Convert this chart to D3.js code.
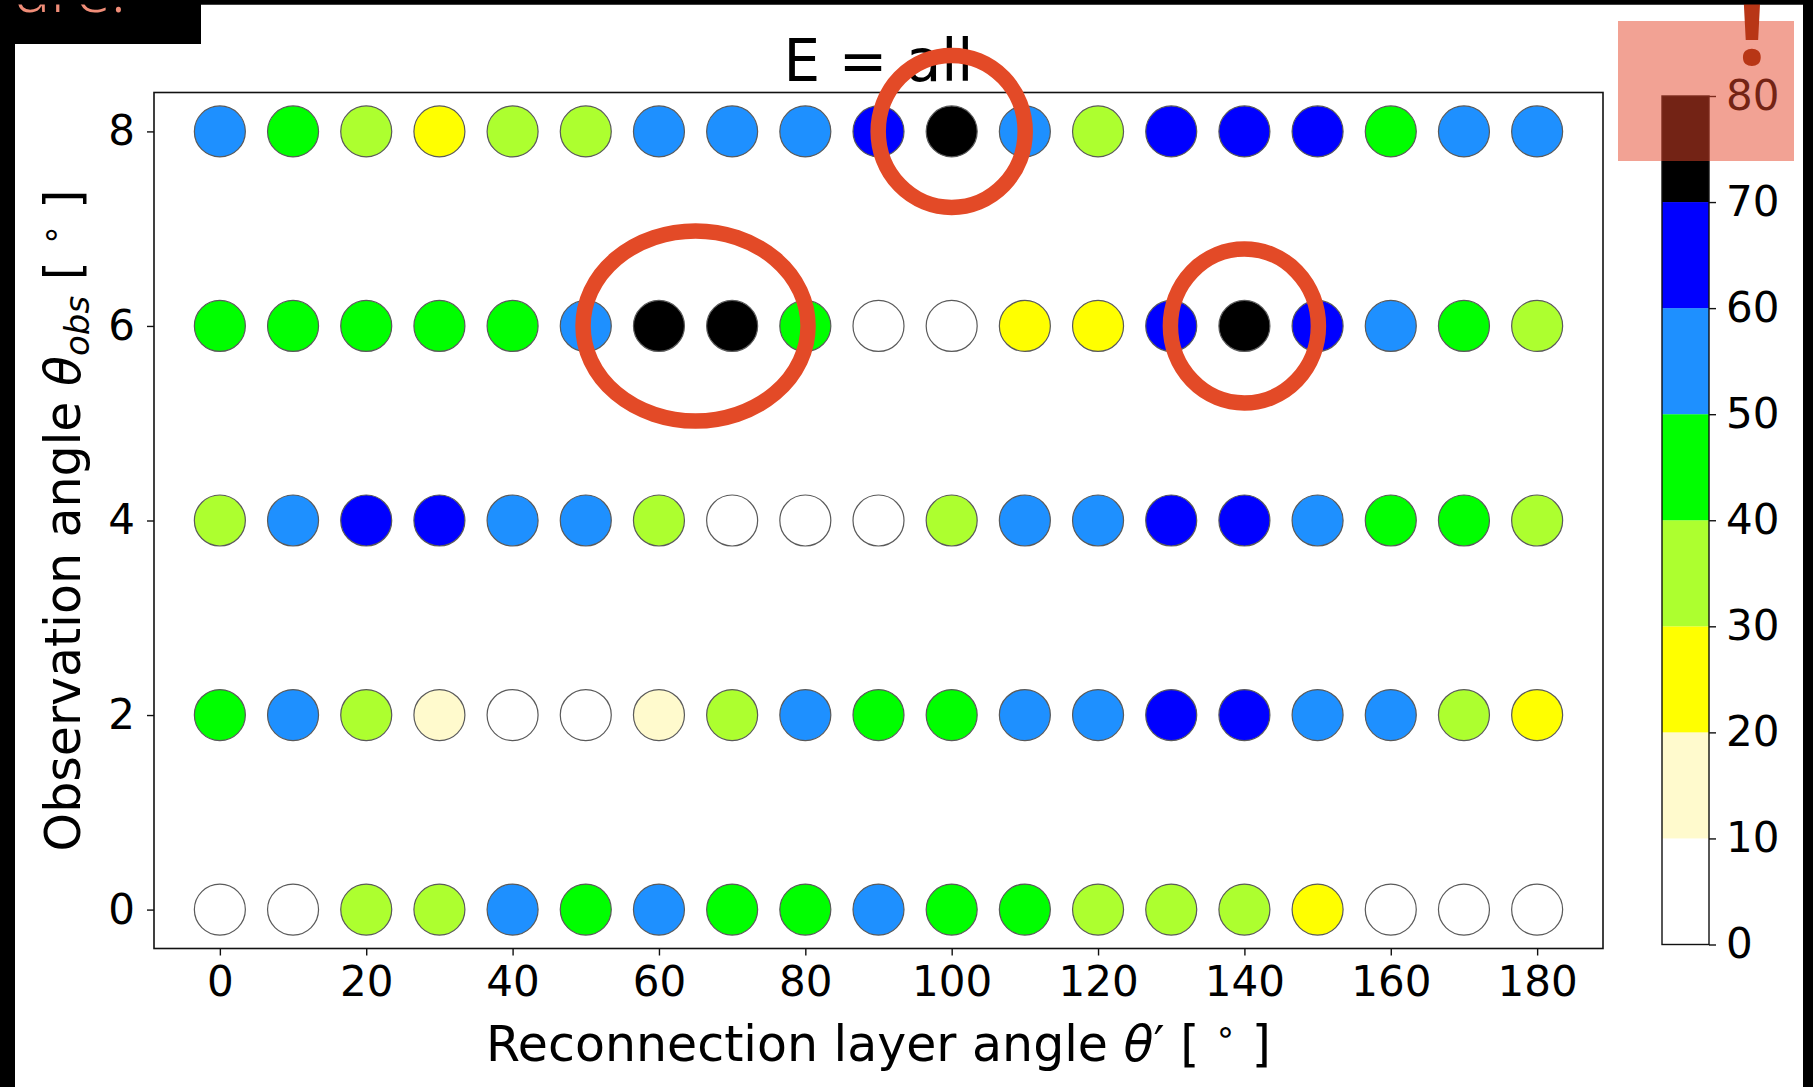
<!DOCTYPE html>
<html>
<head>
<meta charset="utf-8">
<script src="https://cdn.jsdelivr.net/npm/d3@7"></script>
<style>
  html, body { margin: 0; padding: 0; background: #000; }
  svg { display: block; }
  text { font-family: "DejaVu Sans", sans-serif; }
</style>
</head>
<body>
<svg id="chart" width="1813" height="1087"></svg>
<script>
// ---------------- data ----------------
const reconnectionAngles = [0,10,20,30,40,50,60,70,80,90,100,110,120,130,140,150,160,170,180];
const observationAngles = [8, 6, 4, 2, 0];
// values per observation angle (estimated, read from the colour bins)
const valuesObs8 = [55,45,35,25,35,35,55,55,55,65,75,55,35,65,65,65,45,55,55];
const valuesObs6 = [45,45,45,45,45,55,75,75,45,5,5,25,25,65,75,65,55,45,35];
const valuesObs4 = [35,55,65,65,55,55,35,5,5,5,35,55,55,65,65,55,45,45,35];
const valuesObs2 = [45,55,35,15,5,5,15,35,55,45,45,55,55,65,65,55,55,35,25];
const valuesObs0 = [5,5,35,35,55,45,55,45,45,55,45,45,35,35,35,25,5,5,5];
const rowValues = [valuesObs8, valuesObs6, valuesObs4, valuesObs2, valuesObs0];

const colorBounds = [0,10,20,30,40,50,60,70,80];
const colorBins = ["#ffffff","#fffacd","#ffff00","#adff2f","#00ff00","#1e90ff","#0000ff","#000000"];
const xTickValues = [0,20,40,60,80,100,120,140,160,180];
const yTickValues = [0,2,4,6,8];
const cbTickValues = [0,10,20,30,40,50,60,70,80];

const titleText = "E = all";
// highlighted points (annotation ellipses)
const highlightX = [100, 65, 140];
const highlightY = [8, 6, 6];

// ---------------- layout ----------------
const svg = d3.select("#chart");
const plot = {left: 154, right: 1603, top: 92.5, bottom: 948.5};
const cb = {left: 1662, right: 1709, top: 96, bottom: 944.5};
const dotR = 25.5;

// background panels
svg.append("rect").attr("x",0).attr("y",0).attr("width",1813).attr("height",1087).attr("fill","#000");
svg.append("rect").attr("x",15).attr("y",4.5).attr("width",1788).attr("height",1083).attr("fill","#fff");
svg.append("rect").attr("x",0).attr("y",0).attr("width",201).attr("height",44).attr("fill","#000");
svg.append("text").attr("x",126).attr("y",11.5).attr("text-anchor","end")
  .style("font-family","'Open Sans', sans-serif").style("font-weight",300)
  .attr("font-size",64).attr("fill","#f08d78").text("ure!");

const x = d3.scaleLinear().domain([-9,189]).range([plot.left, plot.right]);
const y = d3.scaleLinear().domain([-0.4,8.4]).range([plot.bottom, plot.top]);
const color = d3.scaleThreshold().domain(colorBounds.slice(1,-1)).range(colorBins);

// points
const points = [];
observationAngles.forEach((o,i) => {
  reconnectionAngles.forEach((a,j) => points.push({a, o, v: rowValues[i][j]}));
});
svg.append("g").selectAll("circle").data(points).join("circle")
  .attr("cx", d => x(d.a)).attr("cy", d => y(d.o)).attr("r", dotR)
  .attr("fill", d => color(d.v))
  .attr("stroke", "#5a5a5a").attr("stroke-width", 1.2);

// frame
svg.append("rect").attr("x",plot.left).attr("y",plot.top)
  .attr("width",plot.right-plot.left).attr("height",plot.bottom-plot.top)
  .attr("fill","none").attr("stroke","#111").attr("stroke-width",1.6);

// axes
const xAxis = svg.append("g").attr("transform",`translate(0,${plot.bottom})`)
  .call(d3.axisBottom(x).tickValues(xTickValues).tickSize(7).tickPadding(11).tickSizeOuter(0));
const yAxis = svg.append("g").attr("transform",`translate(${plot.left},0)`)
  .call(d3.axisLeft(y).tickValues(yTickValues).tickSize(7).tickPadding(12).tickSizeOuter(0));
[xAxis, yAxis].forEach(g => {
  g.select(".domain").remove();
  g.selectAll(".tick line").attr("stroke","#111").attr("stroke-width",1.4);
  g.selectAll(".tick text").attr("font-size",42).attr("fill","#000")
    .style("font-family","'DejaVu Sans', sans-serif");
});

// title
svg.append("text").attr("x",(plot.left+plot.right)/2).attr("y",81)
  .attr("text-anchor","middle").attr("font-size",58).attr("fill","#000").text(titleText);

// axis labels
const xl = svg.append("text").attr("x",(plot.left+plot.right)/2).attr("y",1061)
  .attr("text-anchor","middle").attr("font-size",49).attr("fill","#000");
xl.append("tspan").text("Reconnection layer angle ");
xl.append("tspan").style("font-style","italic").text("θ");
xl.append("tspan").text("′ [ ");
xl.append("tspan").attr("font-size",34).attr("dy",-18).text("∘");
xl.append("tspan").attr("dy",18).text(" ]");

const yl = svg.append("text")
  .attr("transform",`translate(80,${(plot.top+plot.bottom)/2}) rotate(-90)`)
  .attr("text-anchor","middle").attr("font-size",49).attr("fill","#000");
yl.append("tspan").text("Observation angle ");
yl.append("tspan").style("font-style","italic").text("θ");
yl.append("tspan").style("font-style","italic").attr("font-size",34).attr("dy",9).text("obs");
yl.append("tspan").attr("dy",-9).text(" [ ");
yl.append("tspan").attr("font-size",34).attr("dy",-18).text("∘");
yl.append("tspan").attr("dy",18).text(" ]");

// colorbar
const cbScale = d3.scaleLinear().domain([0,80]).range([cb.bottom, cb.top]);
const bands = colorBounds.slice(0,-1).map((b,i) => ({lo:b, hi:colorBounds[i+1], c:colorBins[i]}));
svg.append("g").selectAll("rect").data(bands).join("rect")
  .attr("x",cb.left).attr("width",cb.right-cb.left)
  .attr("y", d => cbScale(d.hi)).attr("height", d => cbScale(d.lo)-cbScale(d.hi))
  .attr("fill", d => d.c);
svg.append("rect").attr("x",cb.left).attr("y",cb.top).attr("width",cb.right-cb.left)
  .attr("height",cb.bottom-cb.top).attr("fill","none").attr("stroke","#111").attr("stroke-width",1.4);
const cbAxis = svg.append("g").attr("transform",`translate(${cb.right},0)`)
  .call(d3.axisRight(cbScale).tickValues(cbTickValues).tickSize(7).tickPadding(10).tickSizeOuter(0));
cbAxis.select(".domain").remove();
cbAxis.selectAll(".tick line").attr("stroke","#111").attr("stroke-width",1.4);
cbAxis.selectAll(".tick text").attr("font-size",42).attr("fill","#000")
  .style("font-family","'DejaVu Sans', sans-serif");

// annotations: red ellipses
const ellipseSizes = [[73.5,76],[112.5,95],[74,77]];
svg.append("g").selectAll("ellipse").data(highlightX.map((hx,i)=>({hx, hy:highlightY[i], s:ellipseSizes[i]})))
  .join("ellipse")
  .attr("cx", d => x(d.hx)).attr("cy", d => y(d.hy))
  .attr("rx", d => d.s[0]).attr("ry", d => d.s[1])
  .attr("fill","none").attr("stroke","#e34a27").attr("stroke-width",15.5);

// translucent highlight box over the colorbar top
svg.append("rect").attr("x",1618).attr("y",21).attr("width",176).attr("height",140)
  .attr("fill","#e5452a").attr("fill-opacity",0.5);
svg.append("text").attr("x",1752).attr("y",65).attr("text-anchor","middle")
  .style("font-family","'Open Sans', sans-serif").style("font-weight",700)
  .attr("font-size",104).attr("fill","#b83616").text("!");
// top frame strip drawn last (covers the top of the "!")
svg.append("rect").attr("x",0).attr("y",0).attr("width",1813).attr("height",4.5).attr("fill","#000");
</script>
</body>
</html>
